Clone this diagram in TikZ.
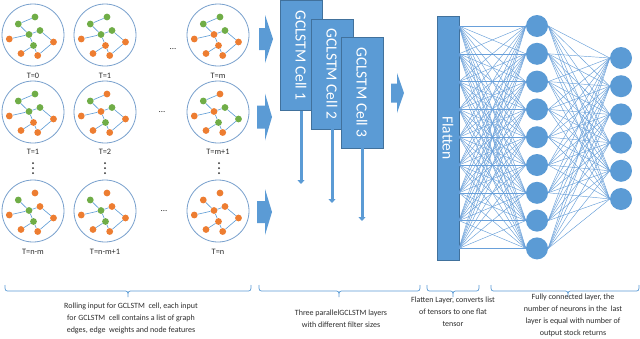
\documentclass[tikz,border=0pt]{standalone}
\usepackage{fontspec}
\setmainfont{Carlito}
\usetikzlibrary{arrows.meta}
\definecolor{nblue}{RGB}{91,155,213}
\definecolor{nblued}{RGB}{65,113,156}
\definecolor{ngreen}{RGB}{112,173,71}
\definecolor{norange}{RGB}{237,125,49}
\definecolor{nring}{RGB}{120,160,205}
\definecolor{nline}{RGB}{105,160,218}
\definecolor{ntext}{RGB}{45,45,45}
\tikzset{
  ring/.style={circle, draw=nring, line width=0.8pt, minimum size=62pt, inner sep=0pt},
  vg/.style={fill=ngreen},
  vo/.style={fill=norange},
  vtx/.style={circle, inner sep=0pt, minimum size=6.8pt},
  gedge/.style={draw=nblue, line width=0.6pt},
  cA/.style=vo, cB/.style=vo, cC/.style=vo, cD/.style=vo, cE/.style=vo,
  cF/.style=vo, cG/.style=vo, cH/.style=vo, cI/.style=vo,
  tlabel/.style={font=\fontsize{8.3}{9}\selectfont, text=ntext, inner sep=0pt},
  cellbox/.style={fill=nblue, draw=nblued, line width=0.4pt, inner sep=0pt,
     text=white, font=\fontsize{15.5}{16}\selectfont, rotate=-90},
  downarrow/.style={draw=nblue, line width=3pt, -{Triangle[width=7pt,length=4pt]}},
  neuron/.style={circle, fill=nblue, minimum size=22pt, inner sep=0pt},
  fc/.style={draw=nline, line width=0.45pt},
  brace/.style={draw=nblue, line width=0.7pt},
  note/.style={font=\fontsize{8}{12}\selectfont, text=ntext, align=center, inner sep=0pt},
  dotsym/.style={font=\fontsize{9}{9}\selectfont, text=ntext, inner sep=0pt}
}
\newcommand\gpic[4]{%
  \begin{scope}[shift={(#2,#3)},#4]
    \node[ring] (#1) at (0,0) {};
    \node[vtx,cA] (#1A) at (-14.7,-11) {};
    \node[vtx,cB] (#1B) at (2,-18) {};
    \node[vtx,cC] (#1C) at (-4,-0.5) {};
    \node[vtx,cD] (#1D) at (7,-4.5) {};
    \node[vtx,cE] (#1E) at (0.5,10.5) {};
    \node[vtx,cF] (#1F) at (-23.7,4) {};
    \node[vtx,cG] (#1G) at (20.5,7) {};
    \node[vtx,cH] (#1H) at (-12,18.5) {};
    \node[vtx,cI] (#1I) at (4.7,20.5) {};
    \draw[gedge] (#1A)--(#1C) (#1C)--(#1D) (#1F)--(#1C) (#1C)--(#1E)
      (#1D)--(#1G) (#1E)--(#1H) (#1E)--(#1I) (#1G)--(#1I);
  \end{scope}}
\newcommand\blockarrow[6]{%
  \fill[nblue] (#1,{#2-#3}) -- (#4,{#2-#3}) -- (#4,{#2-#5}) -- (#6,#2)
    -- (#4,{#2+#5}) -- (#4,{#2+#3}) -- (#1,{#2+#3}) -- cycle;}
\newcommand\brc[3]{%
  \draw[brace] (#1,285) .. controls (#1,291) .. ({#1+5},291) -- ({#2-5},291)
    .. controls (#2,291) .. (#2,297) .. controls (#2,291) .. ({#2+5},291)
    -- ({#3-5},291) .. controls (#3,291) .. (#3,285);}
\begin{document}
\begin{tikzpicture}[x=1pt,y=-1pt]
\useasboundingbox (0,0) rectangle (640,338);
\fill[white] (0,0) rectangle (640,338);

% ---- graph snapshots ----
\gpic{r1c1}{33}{35}{cA/.style=vg,cB/.style=vg,cC/.style=vg,cD/.style=vg,cE/.style=vg}
\gpic{r1c2}{105}{35}{cA/.style=vg,cB/.style=vg,cC/.style=vg,cD/.style=vg}
\gpic{r1c3}{218}{35}{cA/.style=vg,cB/.style=vg,cD/.style=vg}
\gpic{r2c1}{33}{112}{cA/.style=vg,cB/.style=vg,cC/.style=vg,cD/.style=vg}
\gpic{r2c2}{105}{112}{cA/.style=vg,cD/.style=vg,cE/.style=vg}
\gpic{r2c3}{218}{112}{cA/.style=vg,cD/.style=vg,cE/.style=vg,cG/.style=vg}
\gpic{r3c1}{33}{211}{cA/.style=vg,cC/.style=vg,cE/.style=vg}
\gpic{r3c2}{105}{211}{cA/.style=vg,cC/.style=vg,cE/.style=vg}
\gpic{r3c3}{218}{211}{}
\foreach \g in {r1c1,r1c2,r1c3,r2c1,r2c2,r2c3}
  \draw[gedge] (\g A) -- (\g B);

% labels
\node[tlabel] (l11) at (33,76) {T=0};
\node[tlabel] (l12) at (105,76) {T=1};
\node[tlabel] (l13) at (218,76) {T=m};
\node[tlabel] (l21) at (33,152) {T=1};
\node[tlabel] (l22) at (105,152) {T=2};
\node[tlabel] (l23) at (218,152) {T=m+1};
\node[tlabel] (l31) at (33,252) {T=n-m};
\node[tlabel] (l32) at (105,252) {T=n-m+1};
\node[tlabel] (l33) at (218,252) {T=n};

% horizontal ellipses
\node[dotsym] (d1) at (173,49) {...};
\node[dotsym] (d2) at (162,112) {...};
\node[dotsym] (d3) at (164,211) {...};
% vertical dots
\foreach \x in {33,105,219}
  \foreach \y in {163,168,173}
    \fill[ntext] (\x,\y) circle (1pt);

% ---- input arrows ----
\blockarrow{259}{39}{11}{265}{24}{273}
\blockarrow{257}{117}{11.5}{265}{23.5}{272}
\blockarrow{257}{212}{11}{265}{23}{272}

% ---- GCLSTM cells ----
\node[cellbox, minimum width=110pt, minimum height=42pt] (c1) at (301,55.5) {GCLSTM Cell 1};
\node[cellbox, minimum width=110pt, minimum height=42pt] (c2) at (332,74) {GCLSTM Cell 2};
\node[cellbox, minimum width=111pt, minimum height=42pt] (c3) at (362,92.5) {GCLSTM Cell 3};
\coordinate (e1) at (301,184);
\coordinate (e2) at (332,203);
\coordinate (e3) at (362,221);
\draw[downarrow] (c1.east) -- (e1);
\draw[downarrow] (c2.east) -- (e2);
\draw[downarrow] (c3.east) -- (e3);

\blockarrow{391}{93}{9.5}{397}{20}{404}

% ---- flatten + dense ----
\node[cellbox, minimum width=244pt, minimum height=22pt] (fl) at (448,138) {Flatten};
\foreach \i in {1,...,9}
  \coordinate (f\i) at (459,{26+27.8*(\i-1)});
\foreach \i in {1,...,9}
  \node[neuron] (h\i) at (537,{26+27.8*(\i-1)}) {};
\foreach \i in {1,...,6}
  \node[neuron] (o\i) at (621,{58+28.2*(\i-1)}) {};
\foreach \i in {1,...,9}
  \foreach \j in {1,...,9}
    \draw[fc] (f\i) -- (h\j.west);
\foreach \i in {1,...,9}
  \foreach \j in {1,...,6}
    \draw[fc] (h\i.east) -- (o\j.west);

% ---- braces ----
\brc{5}{128}{251}
\brc{259}{339}{420}
\brc{427}{453}{479}
\brc{491}{568}{639}

% ---- notes ----
\node[note] (n1) at (131,318) {Rolling input for GCLSTM\ \ cell, each input\\for GCLSTM\ \ cell contains a list of graph\\edges, edge\ \ weights and node features};
\node[note] (n2) at (341,319) {Three parallelGCLSTM layers\\with different filter sizes};
\node[note] (n3) at (453,312) {Flatten Layer, converts list\\of tensors to one flat\\tensor};
\node[note] (n4) at (573,315) {Fully connected layer, the\\number of neurons in the\ \ last\\layer is equal with number of\\output stock returns};
\end{tikzpicture}
\end{document}
